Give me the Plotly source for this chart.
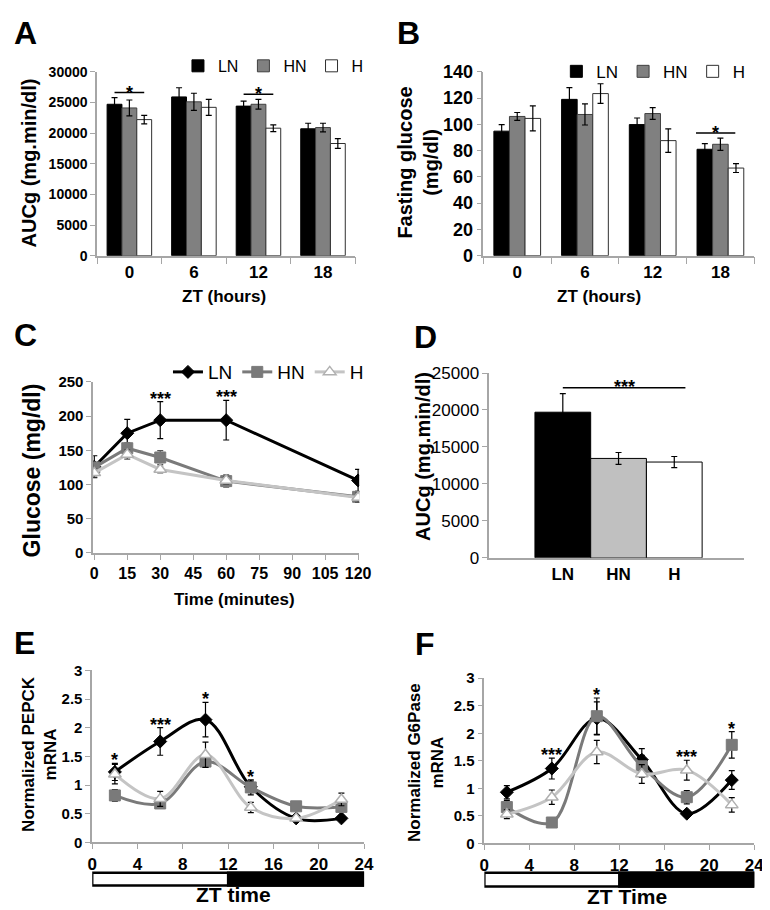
import plotly.graph_objects as go

W, H = 770, 910
FONT = "Liberation Sans, Arial, sans-serif"

# ---------------- Panel A: AUCg by ZT ----------------
zt_labels = ["0", "6", "12", "18"]
aucg_LN = [24700, 25900, 24400, 20700]
aucg_LN_err = [1100, 1500, 800, 900]
aucg_HN = [24100, 25100, 24700, 20900]
aucg_HN_err = [1300, 1400, 800, 700]
aucg_H = [22200, 24200, 20800, 18300]
aucg_H_err = [700, 1300, 550, 800]
aucg_sig_idx = [0, 2]

# ---------------- Panel B: fasting glucose ----------------
fg_LN = [94.8, 119.0, 99.8, 81.0]
fg_LN_err = [5.0, 9.0, 5.0, 4.3]
fg_HN = [106.0, 107.5, 108.2, 84.8]
fg_HN_err = [3.0, 8.0, 4.5, 4.7]
fg_H = [104.5, 123.4, 87.6, 66.7]
fg_H_err = [9.5, 7.5, 9.0, 3.4]
fg_sig_idx = [3]

# ---------------- Panel C: GTT ----------------
gtt_time = [0, 15, 30, 60, 120]
gtt_LN = [126, 175, 194, 194, 106]
gtt_LN_err = [16, 20, 27, 29, 16]
gtt_HN = [125, 153, 139.5, 105, 82]
gtt_HN_err = [6, 8, 10, 9, 8]
gtt_H = [117, 144, 122, 106, 81]
gtt_H_err = [6, 7, 5, 6, 7]
gtt_sig_time = [30, 60]
gtt_sig_lab = ["***", "***"]

# ---------------- Panel D: total AUCg ----------------
grp = ["LN", "HN", "H"]
auc_total = [19700, 13450, 12960]
auc_total_err = [2500, 800, 750]

# ---------------- Panel E: PEPCK ----------------
zt_pts = [2, 6, 10, 14, 18, 22]
pepck_LN = [1.23, 1.76, 2.14, 0.97, 0.42, 0.42]
pepck_LN_err = [0.15, 0.24, 0.30, 0.10, 0.04, 0.03]
pepck_HN = [0.82, 0.68, 1.41, 0.96, 0.63, 0.62]
pepck_HN_err = [0.10, 0.05, 0.10, 0.13, 0.05, 0.05]
pepck_H = [1.19, 0.76, 1.53, 0.61, 0.42, 0.75]
pepck_H_err = [0.17, 0.13, 0.22, 0.09, 0.05, 0.11]
pepck_sig_zt = [2, 6, 10, 14]
pepck_sig_lab = ["*", "***", "*", "*"]

# ---------------- Panel F: G6Pase ----------------
g6p_LN = [0.93, 1.36, 2.27, 1.52, 0.54, 1.15]
g6p_LN_err = [0.12, 0.19, 0.30, 0.20, 0.05, 0.17]
g6p_HN = [0.66, 0.38, 2.31, 1.40, 0.84, 1.79]
g6p_HN_err = [0.12, 0.05, 0.33, 0.20, 0.12, 0.24]
g6p_H = [0.53, 0.84, 1.66, 1.26, 1.33, 0.70]
g6p_H_err = [0.08, 0.13, 0.21, 0.17, 0.18, 0.13]
g6p_sig_zt = [6, 10, 18, 22]
g6p_sig_lab = ["***", "*", "***", "*"]


def xd(a, b):
    return [a / W, b / W]


def yd(top, bottom):
    return [1 - bottom / H, 1 - top / H]


AX = "#a6a6a6"
BOLD = "bold"

fig = go.Figure()

bar_styles = {
    "LN": dict(color="black", line=dict(color="black", width=1)),
    "HN": dict(color="#808080", line=dict(color="#404040", width=1)),
    "H": dict(color="white", line=dict(color="#303030", width=1)),
}


def err(arr, color="black", thick=1.2, width=3):
    return dict(type="data", array=arr, visible=True, color=color, thickness=thick, width=width)


# Panel A
for name, vals, e in [("LN", aucg_LN, aucg_LN_err), ("HN", aucg_HN, aucg_HN_err), ("H", aucg_H, aucg_H_err)]:
    fig.add_trace(go.Bar(x=zt_labels, y=vals, name=name, marker=bar_styles[name], error_y=err(e),
                         xaxis="x", yaxis="y", legend="legend", showlegend=True))
# Panel B
for name, vals, e in [("LN", fg_LN, fg_LN_err), ("HN", fg_HN, fg_HN_err), ("H", fg_H, fg_H_err)]:
    fig.add_trace(go.Bar(x=zt_labels, y=vals, name=name, marker=bar_styles[name], error_y=err(e),
                         xaxis="x2", yaxis="y2", legend="legend2", showlegend=True))

line_styles = {
    "LN": dict(line=dict(color="black", width=3),
               marker=dict(symbol="diamond", size=10, color="black", line=dict(color="black", width=1)),
               ecol="black"),
    "HN": dict(line=dict(color="#7a7a7a", width=3),
               marker=dict(symbol="square", size=11, color="#7a7a7a", line=dict(color="#7a7a7a", width=1)),
               ecol="#555555"),
    "H": dict(line=dict(color="#c4c4c4", width=3),
              marker=dict(symbol="triangle-up", size=11, color="white", line=dict(color="#b0b0b0", width=1.5)),
              ecol="#555555"),
}

# Panel C
for name, vals, e in [("LN", gtt_LN, gtt_LN_err), ("HN", gtt_HN, gtt_HN_err), ("H", gtt_H, gtt_H_err)]:
    s = line_styles[name]
    fig.add_trace(go.Scatter(x=gtt_time, y=vals, name=name, mode="lines+markers", line=s["line"],
                             marker=s["marker"], error_y=err(e, s["ecol"]),
                             xaxis="x3", yaxis="y3", legend="legend3", showlegend=True))

# Panel D
fig.add_trace(go.Bar(x=grp, y=auc_total, width=1,
                     marker=dict(color=["black", "#c0c0c0", "white"], line=dict(color="black", width=1)),
                     error_y=err(auc_total_err), xaxis="x4", yaxis="y4", showlegend=False))

# Panels E and F
for (xa, ya, series) in [
    ("x5", "y5", [("LN", pepck_LN, pepck_LN_err), ("HN", pepck_HN, pepck_HN_err), ("H", pepck_H, pepck_H_err)]),
    ("x6", "y6", [("LN", g6p_LN, g6p_LN_err), ("HN", g6p_HN, g6p_HN_err), ("H", g6p_H, g6p_H_err)]),
]:
    for name, vals, e in series:
        s = line_styles[name]
        fig.add_trace(go.Scatter(x=zt_pts, y=vals, name=name, mode="lines+markers",
                                 line=dict(color=s["line"]["color"], width=3, shape="spline", smoothing=1.0),
                                 marker=s["marker"], error_y=err(e, "black"),
                                 xaxis=xa, yaxis=ya, showlegend=False))


def axis_common(**kw):
    d = dict(showline=True, linecolor=AX, linewidth=1.5, showgrid=False, zeroline=False,
             ticks="outside", tickcolor=AX, ticklen=5, tickwidth=1.2)
    d.update(kw)
    return d


def tf(size, weight=BOLD):
    return dict(family=FONT, size=size, color="black", weight=weight)


layout = dict(
    width=W, height=H, margin=dict(l=0, r=0, t=0, b=0),
    paper_bgcolor="white", plot_bgcolor="white",
    barmode="group", bargap=0.31, bargroupgap=0,
    font=dict(family=FONT, color="black"),
    xaxis=axis_common(type="category", domain=xd(86, 350), anchor="y", tickson="boundaries",
                      ticklen=7, tickfont=tf(17)),
    yaxis=axis_common(domain=yd(55, 243), anchor="x", range=[0, 30000], dtick=5000,
                      tickformat="d", tickfont=tf(14)),
    xaxis2=axis_common(type="category", domain=xd(481, 758), anchor="y2", tickson="boundaries",
                       ticklen=7, tickfont=tf(17)),
    yaxis2=axis_common(domain=yd(55, 243), anchor="x2", range=[0, 140], dtick=20, tickfont=tf(18)),
    xaxis3=axis_common(domain=xd(82, 354), anchor="y3", range=[-0.5, 120.5], tick0=0, dtick=15,
                       tickfont=tf(16)),
    yaxis3=axis_common(domain=yd(372, 547), anchor="x3", range=[0, 250], dtick=50, tickfont=tf(15)),
    xaxis4=axis_common(type="category", domain=xd(487, 748), anchor="y4", range=[-1.32, 3.26],
                       ticks="", tickfont=tf(17)),
    yaxis4=axis_common(domain=yd(363, 552), anchor="x4", range=[0, 25000], dtick=5000, tickformat="d",
                       tickfont=tf(17, "normal")),
    xaxis5=axis_common(domain=xd(81, 359), anchor="y5", range=[0, 24], dtick=4, tickfont=tf(17)),
    yaxis5=axis_common(domain=yd(667, 843), anchor="x5", range=[0, 3], dtick=0.5, tickfont=tf(15)),
    xaxis6=axis_common(domain=xd(482, 758), anchor="y6", range=[0, 24], dtick=4, tickfont=tf(17)),
    yaxis6=axis_common(domain=yd(675, 844), anchor="x6", range=[0, 3], dtick=0.5, tickfont=tf(15)),
    legend=dict(orientation="h", x=364 / W, xanchor="right", y=1 - 49 / H, yanchor="middle",
                font=dict(family=FONT, size=16), bgcolor="rgba(0,0,0,0)", itemwidth=30),
    legend2=dict(orientation="h", x=754 / W, xanchor="right", y=1 - 55 / H, yanchor="middle",
                 font=dict(family=FONT, size=17), bgcolor="rgba(0,0,0,0)", itemwidth=30),
    legend3=dict(orientation="h", x=364 / W, xanchor="right", y=1 - 362 / H, yanchor="middle",
                 font=dict(family=FONT, size=19), bgcolor="rgba(0,0,0,0)", itemwidth=30),
)
fig.update_layout(**layout)

shapes = []
annotations = []

# significance lines/stars for grouped bar panels
half = (1 - 0.31) / 3
for xref, yref, idxs, tops, lo, hi in [
    ("x", "y", aucg_sig_idx, [max(a + b, c + d, e + f) for a, b, c, d, e, f in
                              zip(aucg_LN, aucg_LN_err, aucg_HN, aucg_HN_err, aucg_H, aucg_H_err)], -half, half),
    ("x2", "y2", fg_sig_idx, [max(a + b, c + d, e + f) for a, b, c, d, e, f in
                              zip(fg_LN, fg_LN_err, fg_HN, fg_HN_err, fg_H, fg_H_err)], -0.36, 0.22),
]:
    for i in idxs:
        shapes.append(dict(type="line", xref=xref, yref=yref, x0=i + lo, x1=i + hi,
                           ysizemode="pixel", yanchor=tops[i], y0=5, y1=5,
                           line=dict(color="black", width=1.5)))
        annotations.append(dict(xref=xref, yref=yref, x=i + (lo + hi) / 2, y=tops[i], text="*",
                                showarrow=False, yanchor="middle", yshift=5,
                                font=dict(family=FONT, size=18, weight=BOLD)))

# panel D significance
d_top = max(v + e for v, e in zip(auc_total, auc_total_err))
shapes.append(dict(type="line", xref="x4", yref="y4", x0=0, x1=2.2, ysizemode="pixel",
                   yanchor=d_top, y0=6, y1=6, line=dict(color="black", width=1.5)))
annotations.append(dict(xref="x4", yref="y4", x=1.1, y=d_top, text="***", showarrow=False,
                        yanchor="middle", yshift=7, font=dict(family=FONT, size=18, weight=BOLD)))


def stars(xref, yref, xs, labs, xvals, series):
    for xv, lab in zip(xs, labs):
        k = xvals.index(xv)
        top = max(v[k] + e[k] for v, e in series)
        annotations.append(dict(xref=xref, yref=yref, x=xv, y=top, text=lab, showarrow=False,
                                yanchor="middle", yshift=3,
                                font=dict(family=FONT, size=18, weight=BOLD)))


stars("x3", "y3", gtt_sig_time, gtt_sig_lab, gtt_time,
      [(gtt_LN, gtt_LN_err), (gtt_HN, gtt_HN_err), (gtt_H, gtt_H_err)])
stars("x5", "y5", pepck_sig_zt, pepck_sig_lab, zt_pts,
      [(pepck_LN, pepck_LN_err), (pepck_HN, pepck_HN_err), (pepck_H, pepck_H_err)])
stars("x6", "y6", g6p_sig_zt, g6p_sig_lab, zt_pts,
      [(g6p_LN, g6p_LN_err), (g6p_HN, g6p_HN_err), (g6p_H, g6p_H_err)])

# light/dark bars under E and F
for xref, top, bot in [("x5", 874, 887), ("x6", 874, 888)]:
    shapes.append(dict(type="rect", xref=xref, yref="paper", x0=0, x1=24, y0=1 - bot / H, y1=1 - top / H,
                       fillcolor="white", line=dict(color="black", width=2.5), layer="above"))
    shapes.append(dict(type="rect", xref=xref, yref="paper", x0=12, x1=24, y0=1 - bot / H, y1=1 - top / H,
                       fillcolor="black", line=dict(color="black", width=2.5), layer="above"))


def ptxt(text, x, y, size, angle=0):
    annotations.append(dict(xref="paper", yref="paper", x=x / W, y=1 - y / H, text=text,
                            showarrow=False, textangle=angle, xanchor="center", yanchor="middle",
                            font=dict(family=FONT, size=size, color="black", weight=BOLD)))


# axis titles
ptxt("AUCg (mg.min/dl)", 16, 148, 20, -90)
ptxt("ZT (hours)", 216, 285, 17)
ptxt("Fasting glucose<br>(mg/dl)", 414, 148, 20, -90)
ptxt("ZT (hours)", 599, 285, 17)
ptxt("Glucose (mg/dl)", 19, 463, 23, -90)
ptxt("Time (minutes)", 226, 595, 17)
ptxt("AUCg (mg.min/dl)", 419, 448, 20, -90)
ptxt("Normalized PEPCK<br>mRNA", 27, 752, 17, -90)
ptxt("ZT time", 225, 896, 21)
ptxt("Normalized G6Pase<br>mRNA", 422, 761, 17, -90)
ptxt("ZT Time", 628, 898, 21)

# panel letters
for lab, x, y in [("A", 13, 15), ("B", 404, 15), ("C", 13, 324), ("D", 422, 326), ("E", 12, 639),
                  ("F", 421, 640)]:
    ptxt(lab, x, y, 32)

fig.update_layout(shapes=shapes, annotations=annotations)
fig.write_html("out.html")
